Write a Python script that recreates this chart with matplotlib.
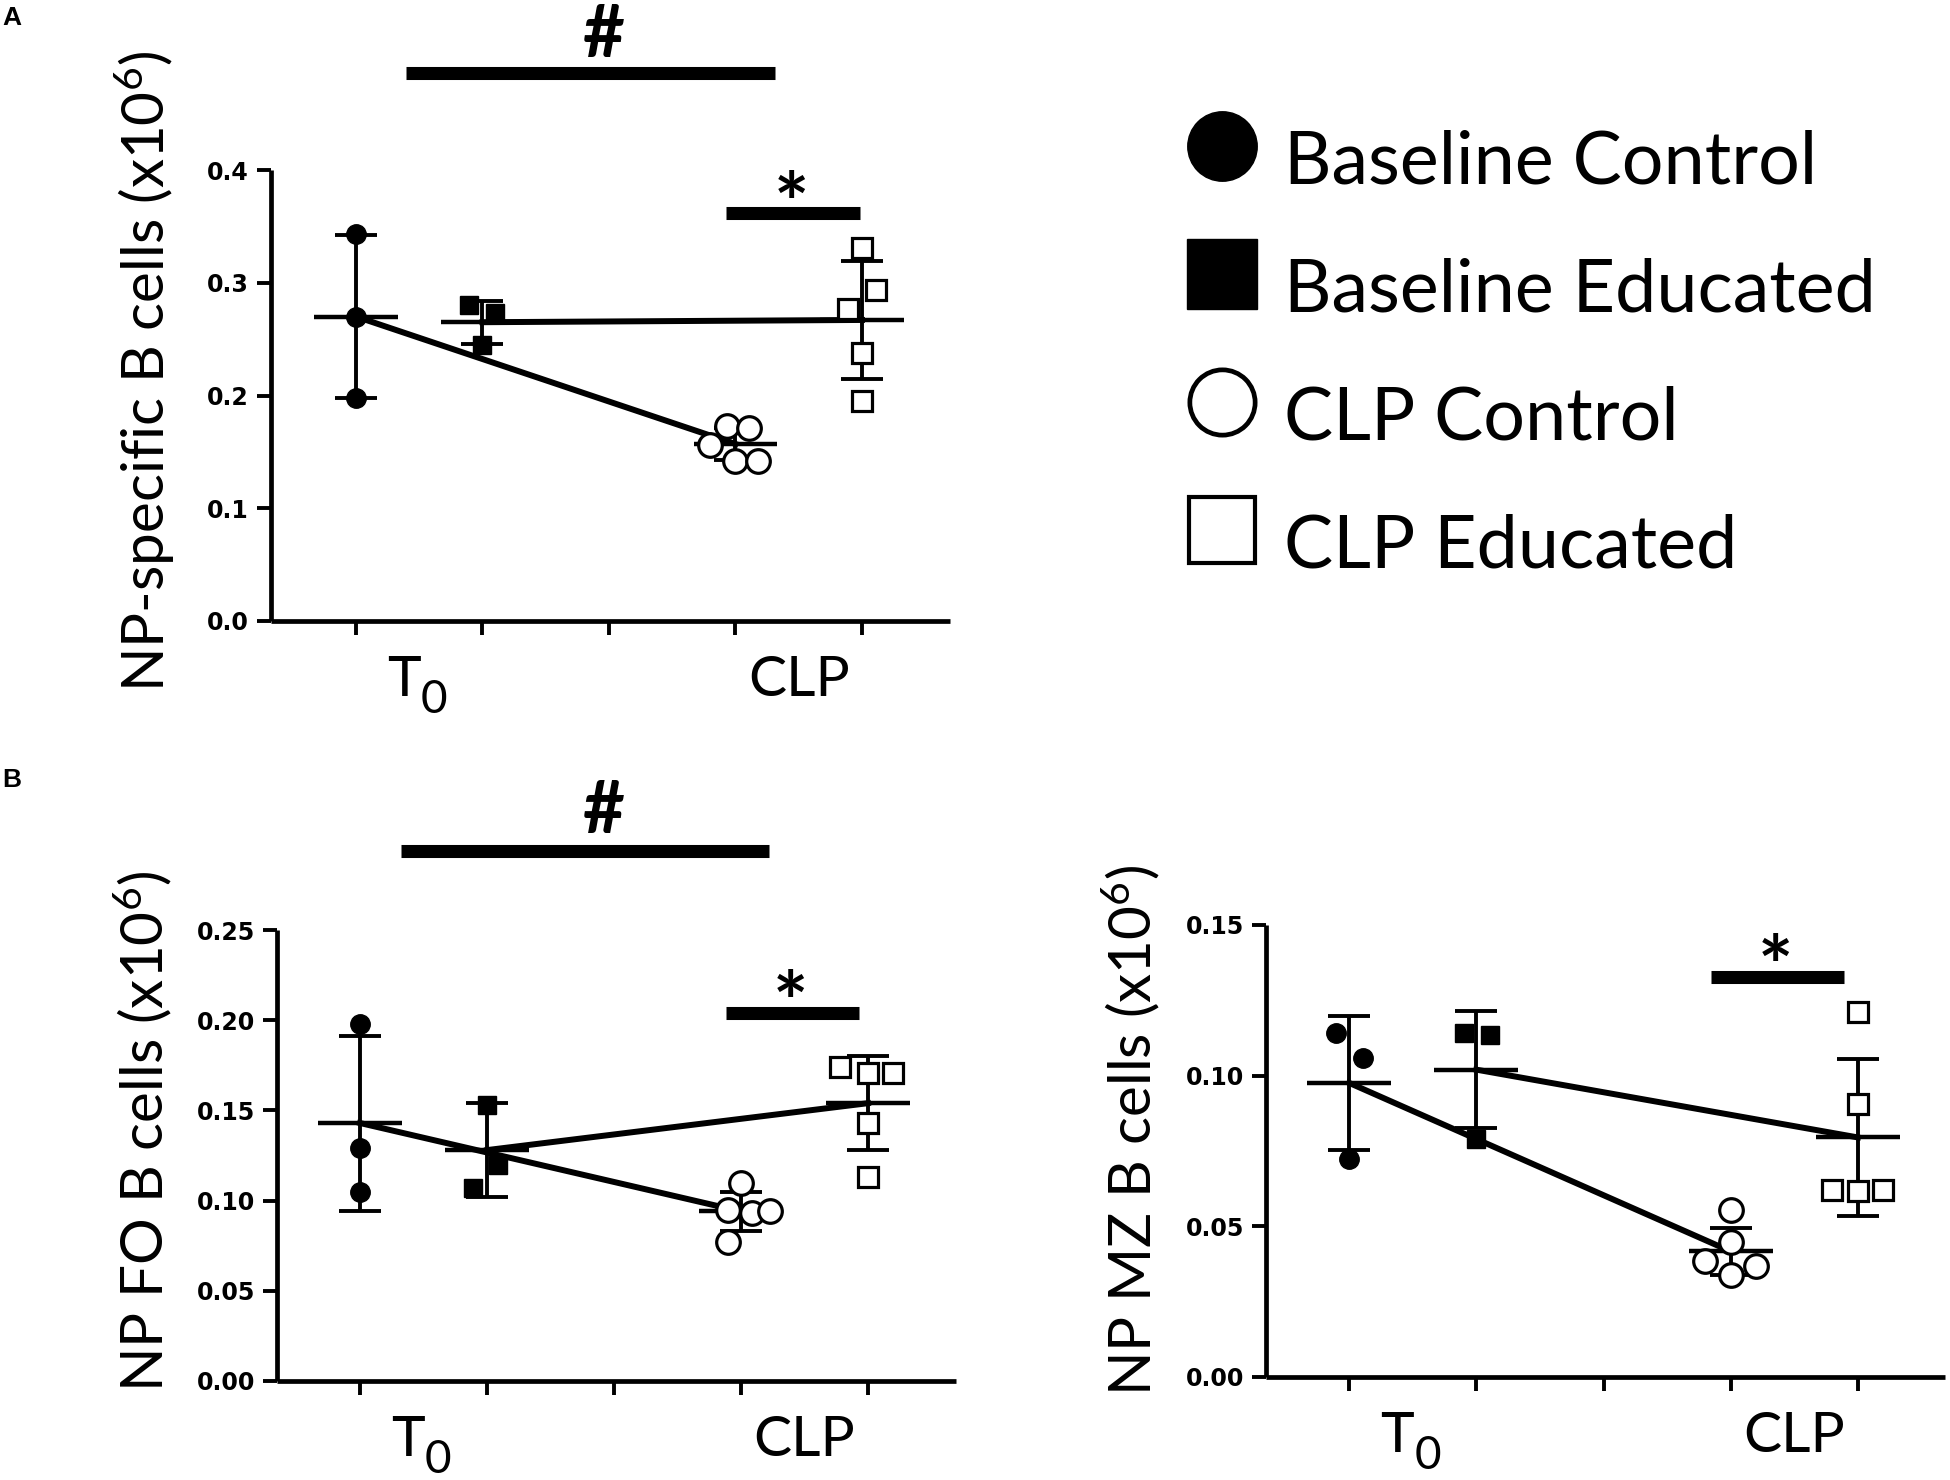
import matplotlib
matplotlib.use('Agg')
import matplotlib.pyplot as plt

plt.rcParams['mathtext.fontset'] = 'custom'
plt.rcParams['mathtext.rm'] = 'Lato'
plt.rcParams['mathtext.default'] = 'regular'

# ---- data ----
groups = ['Baseline Control', 'Baseline Educated', 'CLP Control', 'CLP Educated']
group_x = [1, 2, 4, 5]
cat_labels = ['T', 'CLP']
cat_subs = ['0', '']
cat_x = [1.5, 4.5]

# panel A: NP-specific B cells
a_points = [[0.343, 0.270, 0.198],
            [0.280, 0.273, 0.245],
            [0.156, 0.173, 0.171, 0.142, 0.142],
            [0.331, 0.294, 0.277, 0.238, 0.195]]
a_jitter = [[0, 0, 0],
            [-0.11, 0.10, 0],
            [-0.20, -0.07, 0.11, 0, 0.18],
            [0, 0.11, -0.11, 0, 0]]
a_mean = [0.270, 0.265, 0.157, 0.267]
a_sd = [0.0725, 0.019, 0.0145, 0.052]
a_ticks = [0.0, 0.1, 0.2, 0.3, 0.4]

# panel B left: NP FO B cells
fo_points = [[0.198, 0.129, 0.105],
             [0.153, 0.120, 0.107],
             [0.110, 0.095, 0.093, 0.094, 0.077],
             [0.174, 0.171, 0.171, 0.143, 0.113]]
fo_jitter = [[0, 0, 0],
             [0, 0.09, -0.11],
             [0, -0.10, 0.09, 0.23, -0.10],
             [-0.22, 0, 0.20, 0, 0]]
fo_mean = [0.143, 0.128, 0.094, 0.154]
fo_sd = [0.0485, 0.026, 0.011, 0.026]
fo_ticks = [0.00, 0.05, 0.10, 0.15, 0.20, 0.25]

# panel B right: NP MZ B cells
mz_points = [[0.1143, 0.106, 0.0725],
             [0.114, 0.1134, 0.079],
             [0.0555, 0.0448, 0.0385, 0.0368, 0.034],
             [0.121, 0.0906, 0.062, 0.0618, 0.062]]
mz_jitter = [[-0.10, 0.11, 0],
             [-0.095, 0.11, 0],
             [0, 0, -0.20, 0.20, 0],
             [0, 0, -0.20, 0, 0.20]]
mz_mean = [0.0976, 0.102, 0.0417, 0.0795]
mz_sd = [0.0222, 0.0195, 0.0078, 0.026]
mz_ticks = [0.00, 0.05, 0.10, 0.15]

W, H = 1950, 1480
fig = plt.figure(figsize=(19.5, 14.8), dpi=100)

styles = [dict(marker='o', mfc='black', mec='black', ms=14, mew=1),
          dict(marker='s', mfc='black', mec='black', ms=13.5, mew=1),
          dict(marker='o', mfc='white', mec='black', ms=17, mew=2.3),
          dict(marker='s', mfc='white', mec='black', ms=15, mew=2.3)]

TICKFONT = dict(family='DejaVu Sans', weight='bold', size=17)
BIGFONT = 'Lato'


def px_axes(left, top, right, bottom):
    return fig.add_axes([left / W, 1 - bottom / H, (right - left) / W, (bottom - top) / H])


def draw_panel(ax, pts, jit, means, sds, ticks, fmt, xl):
    for i in range(4):
        x = group_x[i]
        xs = [x + d for d in jit[i]]
        ax.plot(xs, pts[i], ls='none', zorder=4, clip_on=False, **styles[i])
        ax.plot([x - 0.33, x + 0.33], [means[i], means[i]], color='k', lw=3.2,
                solid_capstyle='butt', zorder=3)
        ax.errorbar(x, means[i], yerr=sds[i], fmt='none', ecolor='k', elinewidth=2.8,
                    capsize=15, capthick=2.8, zorder=3)
    # connecting lines between means
    ax.plot([group_x[0], group_x[2]], [means[0], means[2]], color='k', lw=4.3, zorder=3)
    ax.plot([group_x[1], group_x[3]], [means[1], means[3]], color='k', lw=4.3, zorder=3)

    ax.set_xlim(*xl)
    ax.set_ylim(ticks[0], ticks[-1])
    ax.set_xticks([1, 2, 3, 4, 5])
    ax.set_xticklabels([])
    ax.set_yticks(ticks)
    ax.set_yticklabels([fmt % t for t in ticks], fontdict=TICKFONT)
    for s in ['top', 'right']:
        ax.spines[s].set_visible(False)
    for s in ['left', 'bottom']:
        ax.spines[s].set_linewidth(3.4)
        ax.spines[s].set_capstyle('butt')
    ax.tick_params(direction='out', length=10, width=2.8, pad=6)
    ax.patch.set_alpha(0)
    for lab, sub, cx in zip(cat_labels, cat_subs, cat_x):
        if sub:
            ax.annotate(lab, xy=(cx, 0), xycoords=('data', 'axes fraction'),
                        xytext=(1, -54), textcoords='offset points', ha='right',
                        va='baseline', fontsize=41, family=BIGFONT)
            ax.annotate(sub, xy=(cx, 0), xycoords=('data', 'axes fraction'),
                        xytext=(1, -66), textcoords='offset points', ha='left',
                        va='baseline', fontsize=33, family=BIGFONT)
        else:
            ax.annotate(lab, xy=(cx, 0), xycoords=('data', 'axes fraction'),
                        xytext=(0, -54), textcoords='offset points', ha='center',
                        va='baseline', fontsize=41, family=BIGFONT)


def sig_bar(ax, x0, x1, y, sym, base, xs, size):
    # base is the text baseline in data units
    ax.plot([x0, x1], [y, y], color='k', lw=9.4, solid_capstyle='butt', clip_on=False)
    ax.text(xs, base, sym, ha='center', va='baseline', fontsize=size, family=BIGFONT,
            fontweight='bold', clip_on=False, zorder=5)


axA = px_axes(271, 170, 950, 621)
draw_panel(axA, a_points, a_jitter, a_mean, a_sd, a_ticks, '%.1f', (0.328, 5.696))
sig_bar(axA, 1.395, 4.312, 0.486, '#', 0.500, 2.96, 52)
sig_bar(axA, 3.925, 4.985, 0.362, '*', 0.344, 4.44, 60)

axB1 = px_axes(277, 930, 956, 1381)
draw_panel(axB1, fo_points, fo_jitter, fo_mean, fo_sd, fo_ticks, '%.2f', (0.346, 5.693))
sig_bar(axB1, 1.322, 4.220, 0.294, '#', 0.304, 2.92, 52)
sig_bar(axB1, 3.880, 4.930, 0.204, '*', 0.1935, 4.39, 60)

axB2 = px_axes(1266, 925, 1945, 1377)
draw_panel(axB2, mz_points, mz_jitter, mz_mean, mz_sd, mz_ticks, '%.2f', (0.346, 5.685))
sig_bar(axB2, 3.842, 4.890, 0.1326, '*', 0.1265, 4.35, 60)

# y axis titles
fig.text(145 / W, 1 - 371 / H, r'NP-specific B cells (x10$^{6}$)', rotation=90,
         ha='center', va='center', fontsize=42, family=BIGFONT)
fig.text(143 / W, 1 - 1131 / H, r'NP FO B cells (x10$^{6}$)', rotation=90,
         ha='center', va='center', fontsize=42, family=BIGFONT)
fig.text(1131 / W, 1 - 1131 / H, r'NP MZ B cells (x10$^{6}$)', rotation=90,
         ha='center', va='center', fontsize=42, family=BIGFONT)

# panel letters
fig.text(2 / W, 1 - 6 / H, 'A', fontsize=19, fontweight='bold', va='top',
         family='Liberation Sans')
fig.text(2 / W, 1 - 768 / H, 'B', fontsize=19, fontweight='bold', va='top',
         family='Liberation Sans')

# legend, drawn on an overlay in pixel units
leg = fig.add_axes([0, 0, 1, 1])
leg.set_xlim(0, W)
leg.set_ylim(H, 0)
leg.axis('off')
leg_styles = [dict(marker='o', mfc='black', mec='black', ms=50, mew=1),
              dict(marker='s', mfc='black', mec='black', ms=50, mew=1),
              dict(marker='o', mfc='white', mec='black', ms=47, mew=3.4),
              dict(marker='s', mfc='white', mec='black', ms=48, mew=3.0)]
for i, name in enumerate(groups):
    y = 146 + 128 * i
    leg.plot([1222], [y], ls='none', **leg_styles[i])
    leg.text(1284, y + 38, name, va='baseline', ha='left', fontsize=53, family=BIGFONT)

fig.savefig('out.png', dpi=100)
